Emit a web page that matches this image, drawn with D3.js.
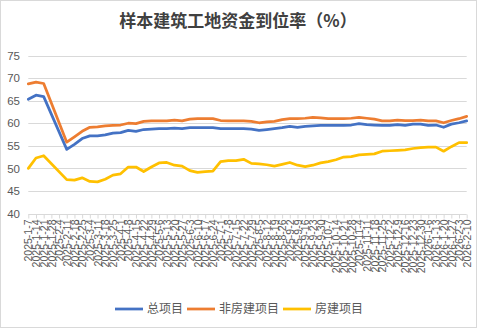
<!DOCTYPE html>
<html>
<head>
<meta charset="utf-8">
<script src="https://cdn.jsdelivr.net/npm/d3@7/dist/d3.min.js"></script>
<style>
  html, body { margin: 0; padding: 0; background: #fff; }
  svg { display: block; }
</style>
</head>
<body>
<svg id="chart" width="482" height="329"></svg>
<script>
// Weekly reporting dates (the two Spring Festival weeks have no survey data)
const dates = [
  "2025-1-7","2025-1-14","2025-1-21","2025-1-28","2025-2-4","2025-2-11","2025-2-18","2025-2-25",
  "2025-3-4","2025-3-11","2025-3-18","2025-3-25","2025-4-1","2025-4-8","2025-4-15","2025-4-22",
  "2025-4-29","2025-5-6","2025-5-13","2025-5-20","2025-5-27","2025-6-3","2025-6-10","2025-6-17",
  "2025-6-24","2025-7-1","2025-7-8","2025-7-15","2025-7-22","2025-7-29","2025-8-5","2025-8-12",
  "2025-8-19","2025-8-26","2025-9-2","2025-9-9","2025-9-16","2025-9-23","2025-9-30","2025-10-7",
  "2025-10-14","2025-10-21","2025-10-28","2025-11-4","2025-11-11","2025-11-18","2025-11-25","2025-12-2",
  "2025-12-9","2025-12-16","2025-12-23","2025-12-30","2026-1-6","2026-1-13","2026-1-20","2026-1-27",
  "2026-2-3","2026-2-10"
];

// 总项目
const totalRate = [
  65.3,66.2,65.9,null,null,54.2,55.3,56.6,57.2,57.2,57.4,57.8,57.9,58.4,58.2,58.6,
  58.7,58.8,58.8,58.9,58.8,59.0,59.0,59.0,59.0,58.8,58.8,58.8,58.8,58.7,58.4,58.6,
  58.8,59.0,59.3,59.1,59.3,59.4,59.5,59.5,59.5,59.5,59.6,59.9,59.7,59.6,59.5,59.5,
  59.7,59.5,59.8,59.8,59.5,59.6,59.1,59.8,60.1,60.5
];
// 非房建项目
const nonHousingRate = [
  68.7,69.1,68.8,null,null,55.8,57.0,58.2,59.1,59.2,59.4,59.5,59.6,60.0,59.9,60.4,
  60.5,60.5,60.5,60.7,60.5,60.9,61.0,61.0,61.0,60.6,60.5,60.5,60.5,60.4,60.1,60.3,
  60.4,60.8,61.0,61.0,61.1,61.3,61.2,61.0,61.0,61.0,61.1,61.3,61.1,60.9,60.5,60.5,
  60.7,60.6,60.6,60.7,60.5,60.5,60.1,60.6,61.0,61.5
];
// 房建项目
const housingRate = [
  50.0,52.3,52.8,null,null,47.5,47.4,47.9,47.1,47.0,47.6,48.5,48.8,50.3,50.3,49.3,
  50.3,51.2,51.3,50.7,50.5,49.5,49.1,49.3,49.4,51.5,51.7,51.7,52.0,51.1,51.0,50.8,
  50.5,50.9,51.3,50.7,50.4,50.7,51.2,51.5,51.9,52.5,52.6,53.0,53.1,53.2,53.8,53.9,
  54.0,54.1,54.4,54.6,54.7,54.7,53.8,54.8,55.7,55.7
];

const seriesNames = ["总项目", "非房建项目", "房建项目"];
const seriesColors = ["#4472C4", "#ED7D31", "#FFC000"];
const yTicks = [40, 45, 50, 55, 60, 65, 70, 75];
const title = "样本建筑工地资金到位率（%）";

const series = [totalRate, nonHousingRate, housingRate].map((vals, k) => ({
  name: seriesNames[k],
  color: seriesColors[k],
  points: dates.map((d, i) => ({ date: d, value: vals[i] }))
}));

const svg = d3.select("#chart");
const plotLeft = 28.3, plotRight = 466.7, plotTop = 55.5, plotBottom = 213.5;

const latin = "'Liberation Sans', Arial, sans-serif";
const cjk = "'Noto Sans CJK SC', 'Liberation Sans', sans-serif";

// chart frame
svg.append("rect")
  .attr("x", 0.5).attr("y", 0.5)
  .attr("width", 476).attr("height", 327)
  .attr("fill", "#fff").attr("stroke", "#d9d9d9").attr("stroke-width", 1);

const x = d3.scalePoint().domain(dates).range([plotLeft, plotRight]);
const y = d3.scaleLinear().domain([40, 75]).range([plotBottom, plotTop]);

// horizontal gridlines
svg.append("g")
  .selectAll("line")
  .data(yTicks.filter(t => t > 40))
  .join("line")
  .attr("x1", plotLeft).attr("x2", plotRight)
  .attr("y1", d => Math.round(y(d)) + 0.5)
  .attr("y2", d => Math.round(y(d)) + 0.5)
  .attr("stroke", "#d9d9d9").attr("stroke-width", 1);

// y axis labels
const yAxis = d3.axisLeft(y).tickValues(yTicks).tickSize(0).tickPadding(0);
const yG = svg.append("g").attr("transform", "translate(20,0)").call(yAxis);
yG.select(".domain").remove();
yG.selectAll("text")
  .attr("fill", "#595959")
  .style("font-family", latin)
  .style("font-size", "11.5px");

// x axis with rotated date labels
const xAxis = d3.axisBottom(x).tickSize(4).tickPadding(4);
const xG = svg.append("g").attr("transform", `translate(0,${Math.round(plotBottom) + 0.5})`).call(xAxis);
xG.select(".domain").attr("stroke", "#d9d9d9").attr("d", `M${plotLeft},0H${plotRight}`);
xG.selectAll(".tick line").attr("stroke", "#d9d9d9");
xG.selectAll(".tick text")
  .attr("fill", "#595959")
  .style("font-family", latin)
  .style("font-size", "10.5px")
  .attr("text-anchor", "end")
  .attr("transform", "rotate(-90)")
  .attr("x", -5)
  .attr("y", 0)
  .attr("dy", "0.35em");

// series lines (gaps are bridged across missing weeks)
const line = d3.line()
  .x(d => x(d.date))
  .y(d => y(d.value));

svg.append("g")
  .selectAll("path")
  .data(series)
  .join("path")
  .attr("d", s => line(s.points.filter(p => p.value != null)))
  .attr("fill", "none")
  .attr("stroke", s => s.color)
  .attr("stroke-width", 2.75)
  .attr("stroke-linejoin", "round")
  .attr("stroke-linecap", "round");

// title
svg.append("text")
  .attr("x", 238).attr("y", 27)
  .attr("text-anchor", "middle")
  .attr("fill", "#404040")
  .style("font-family", "'Noto Sans CJK SC', sans-serif")
  .style("font-size", "17px")
  .style("font-weight", "bold")
  .text(title);

// legend
const legend = svg.append("g");
const lineLen = 28, textGap = 4, itemGap = 4;
let cursor = 0;
series.forEach(s => {
  const g = legend.append("g");
  g.append("line")
    .attr("x1", 0).attr("x2", lineLen)
    .attr("y1", 0).attr("y2", 0)
    .attr("stroke", s.color).attr("stroke-width", 2.75);
  const t = g.append("text")
    .attr("x", lineLen + textGap).attr("y", 0)
    .attr("dy", "0.36em")
    .attr("fill", "#595959")
    .style("font-family", cjk)
    .style("font-size", "12px")
    .text(s.name);
  const w = t.node().getComputedTextLength();
  g.attr("transform", `translate(${cursor},0)`);
  cursor += lineLen + textGap + w + itemGap;
});
const legendWidth = cursor - itemGap;
legend.attr("transform", `translate(${239 - legendWidth / 2},309)`);
</script>
</body>
</html>
